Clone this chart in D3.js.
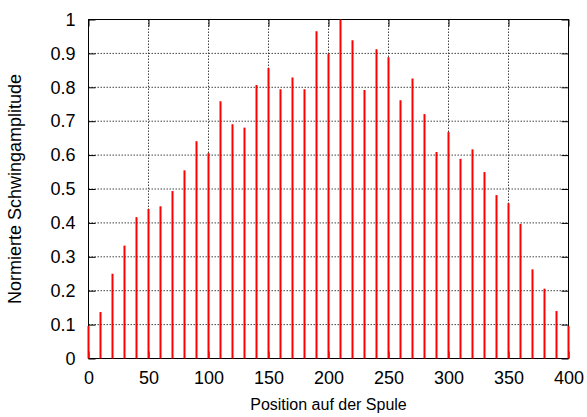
<!DOCTYPE html>
<html>
<head>
<meta charset="utf-8">
<script src="https://cdn.jsdelivr.net/npm/d3@7"></script>
<style>
  html, body { margin: 0; padding: 0; background: #fff; }
  svg { display: block; }
  text { font-family: "Liberation Sans", Arial, Helvetica, sans-serif; fill: #000; }
</style>
</head>
<body>
<svg id="chart" width="587" height="417"></svg>
<script>
// Measurement positions along the coil (x) and normalised amplitude (y)
const positions = [0, 10, 20, 30, 40, 50, 60, 70, 80, 90,
                   100, 110, 120, 130, 140, 150, 160, 170, 180, 190,
                   200, 210, 220, 230, 240, 250, 260, 270, 280, 290,
                   300, 310, 320, 330, 340, 350, 360, 370, 380, 390, 400];
const amplitudes = [0.096, 0.137, 0.250, 0.333, 0.417, 0.441, 0.449, 0.494, 0.555, 0.641,
                    0.606, 0.759, 0.691, 0.681, 0.807, 0.857, 0.794, 0.829, 0.794, 0.965,
                    0.899, 1.000, 0.939, 0.792, 0.912, 0.889, 0.762, 0.826, 0.721, 0.609,
                    0.668, 0.589, 0.617, 0.550, 0.482, 0.458, 0.397, 0.263, 0.206, 0.140,
                    0.096];
const xTicks = [0, 50, 100, 150, 200, 250, 300, 350, 400];
const yTicks = [0, 0.1, 0.2, 0.3, 0.4, 0.5, 0.6, 0.7, 0.8, 0.9, 1];
const xTitle = "Position auf der Spule";
const yTitle = "Normierte Schwingamplitude";

const svg = d3.select("#chart");
const m = { left: 88.5, right: 568.5, top: 19.5, bottom: 358.5 };

const x = d3.scaleLinear().domain([0, 400]).range([m.left, m.right]);
const y = d3.scaleLinear().domain([0, 1]).range([m.bottom, m.top]);

// Dotted grid
const grid = svg.append("g").attr("stroke", "#444").attr("stroke-width", 1)
  .attr("stroke-dasharray", "1.5,1.5").attr("fill", "none");
grid.selectAll("line.gx").data(xTicks).join("line")
  .attr("x1", d => x(d)).attr("x2", d => x(d))
  .attr("y1", m.top).attr("y2", m.bottom);
grid.selectAll("line.gy").data(yTicks).join("line")
  .attr("x1", m.left).attr("x2", m.right)
  .attr("y1", d => y(d)).attr("y2", d => y(d));

// Axes with inward ticks on all four sides
const tickLen = 7;
const fmtY = d => d === 0 ? "0" : d === 1 ? "1" : d3.format(".1f")(d);

const axB = svg.append("g").attr("transform", `translate(0,${m.bottom})`)
  .call(d3.axisBottom(x).tickValues(xTicks).tickSizeInner(-tickLen).tickSizeOuter(0).tickPadding(13));
const axT = svg.append("g").attr("transform", `translate(0,${m.top})`)
  .call(d3.axisTop(x).tickValues(xTicks).tickSizeInner(-tickLen).tickSizeOuter(0).tickFormat(""));
const axL = svg.append("g").attr("transform", `translate(${m.left},0)`)
  .call(d3.axisLeft(y).tickValues(yTicks).tickSizeInner(-tickLen).tickSizeOuter(0).tickPadding(13).tickFormat(fmtY));
const axR = svg.append("g").attr("transform", `translate(${m.right},0)`)
  .call(d3.axisRight(y).tickValues(yTicks).tickSizeInner(-tickLen).tickSizeOuter(0).tickFormat(""));

[axB, axT, axL, axR].forEach(a => {
  a.select(".domain").remove();
  a.selectAll(".tick line").attr("stroke", "#000").attr("stroke-width", 1);
  a.selectAll("text").attr("font-size", 18).attr("font-family", "Liberation Sans, Arial, sans-serif");
});

// Frame
svg.append("rect").attr("x", m.left).attr("y", m.top)
  .attr("width", m.right - m.left).attr("height", m.bottom - m.top)
  .attr("fill", "none").attr("stroke", "#000").attr("stroke-width", 1);

// Impulses
svg.append("g").selectAll("line").data(positions).join("line")
  .attr("x1", d => x(d)).attr("x2", d => x(d))
  .attr("y1", y(0)).attr("y2", (d, i) => y(amplitudes[i]))
  .attr("stroke", "#ff0000").attr("stroke-width", 2);

// Axis titles
svg.append("text").attr("x", (m.left + m.right) / 2).attr("y", 410)
  .attr("text-anchor", "middle").attr("font-size", 16).text(xTitle);
svg.append("text").attr("transform", `translate(21,${(m.top + m.bottom) / 2}) rotate(-90)`)
  .attr("text-anchor", "middle").attr("font-size", 18).text(yTitle);
</script>
</body>
</html>
